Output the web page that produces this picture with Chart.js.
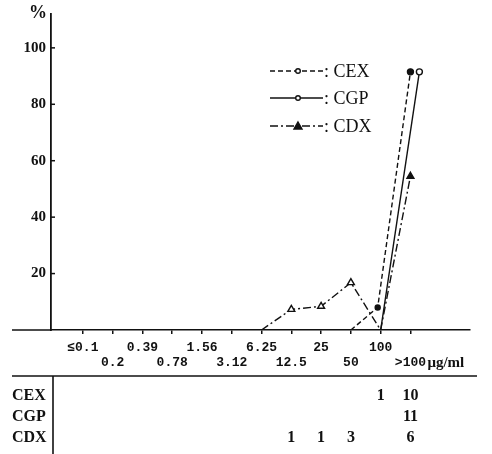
<!DOCTYPE html>
<html>
<head>
<meta charset="utf-8">
<script src="https://cdn.jsdelivr.net/npm/chart.js@4.4.1/dist/chart.umd.min.js"></script>
<style>
  html, body { margin: 0; padding: 0; background: #fff; }
  #wrap { width: 492px; height: 454px; position: relative; }
</style>
</head>
<body>
<div id="wrap"><canvas id="grafico"></canvas></div>
<script>
// Concentrações (eixo x) e valores
const concLabels = ['≤0.1', '0.2', '0.39', '0.78', '1.56', '3.12', '6.25', '12.5', '25', '50', '100', '>100'];
const yTicks = [20, 40, 60, 80, 100];

const cexX = [9, 9.9, 11];
const cexY = [0, 8, 91.5];
const cgpX = [10, 11.3];
const cgpY = [0, 91.5];
const cdxX = [6, 7, 8, 9, 10, 11];
const cdxY = [0, 7.3, 8.4, 16.8, 0, 54.5];

// Tabela de contagens (por coluna de concentração)
const rowNames = ['CEX', 'CGP', 'CDX'];
const cexCounts = [null, null, null, null, null, null, null, null, null, null, 1, 10];
const cgpCounts = [null, null, null, null, null, null, null, null, null, null, null, 11];
const cdxCounts = [null, null, null, null, null, null, null, 1, 1, 3, null, 6];

const SERIF = '"Liberation Serif", "DejaVu Serif", serif';
const MONO = '"Liberation Mono", "DejaVu Sans Mono", monospace';

function pts(xs, ys) {
    return xs.map((x, i) => ({ x: x, y: ys[i] }));
}

const datasets = [
    { label: 'CEX', data: pts(cexX, cexY), borderColor: '#111', borderWidth: 1.4, borderDash: [5, 3],
      pointStyle: 'circle', pointRadius: [0, 2.5, 3], pointBackgroundColor: '#111', pointBorderColor: '#111' },
    { label: 'CGP', data: pts(cgpX, cgpY), borderColor: '#111', borderWidth: 1.4,
      pointStyle: 'circle', pointRadius: [0, 3], pointBackgroundColor: '#fff', pointBorderColor: '#111', pointBorderWidth: 1.4 },
    { label: 'CDX', data: pts(cdxX, cdxY), borderColor: '#111', borderWidth: 1.4, borderDash: [8, 3, 2, 3],
      pointStyle: 'triangle', pointRadius: [0, 4, 4, 4, 0, 4],
      pointBackgroundColor: ['#fff', '#fff', '#fff', '#fff', '#fff', '#111'], pointBorderColor: '#111', pointBorderWidth: 1.4 }
];

// Desenho extra: eixos estendidos, legenda, tabela
const extras = {
    id: 'extras',
    afterDraw(chart) {
        const ctx = chart.ctx;
        const xs = chart.scales.x;
        const ys = chart.scales.y;
        const area = chart.chartArea;
        ctx.save();
        ctx.strokeStyle = '#111';
        ctx.fillStyle = '#111';

        // ticks do eixo y para dentro
        ctx.lineWidth = 1.5;
        yTicks.forEach(v => {
            const py = ys.getPixelForValue(v);
            ctx.beginPath();
            ctx.moveTo(area.left, py);
            ctx.lineTo(area.left + 4, py);
            ctx.stroke();
        });

        // linha base estendida para a esquerda
        ctx.lineWidth = 1.6;
        ctx.beginPath();
        ctx.moveTo(12, area.bottom);
        ctx.lineTo(area.left, area.bottom);
        ctx.stroke();

        // linhas da tabela
        ctx.beginPath();
        ctx.moveTo(12, 376);
        ctx.lineTo(477, 376);
        ctx.stroke();
        ctx.beginPath();
        ctx.moveTo(53, 376);
        ctx.lineTo(53, 454);
        ctx.stroke();

        // %
        ctx.font = 'bold 18px ' + SERIF;
        ctx.textAlign = 'center';
        ctx.textBaseline = 'middle';
        ctx.fillText('%', 38, 13);

        // unidade
        ctx.font = 'bold 15px ' + SERIF;
        ctx.textAlign = 'left';
        const x100 = xs.getPixelForValue(11);
        ctx.fillText('μg/ml', x100 + 17, 363);

        // tabela
        const counts = [cexCounts, cgpCounts, cdxCounts];
        const rowY = [396, 417, 438];
        ctx.font = 'bold 16px ' + SERIF;
        rowNames.forEach((name, r) => {
            ctx.textAlign = 'left';
            ctx.fillText(name, 12, rowY[r]);
            ctx.textAlign = 'center';
            counts[r].forEach((c, i) => {
                if (c !== null) ctx.fillText(String(c), xs.getPixelForValue(i), rowY[r]);
            });
        });

        // legenda
        const legY = [71, 98, 126];
        chart.data.datasets.forEach((ds, i) => {
            const y = legY[i];
            ctx.lineWidth = 1.4;
            ctx.setLineDash(ds.borderDash || []);
            ctx.beginPath();
            ctx.moveTo(270, y);
            ctx.lineTo(323, y);
            ctx.stroke();
            ctx.setLineDash([]);
            ctx.fillStyle = i === 2 ? '#111' : '#fff';
            ctx.beginPath();
            if (i === 2) {
                ctx.moveTo(298, y - 4);
                ctx.lineTo(302, y + 3);
                ctx.lineTo(294, y + 3);
                ctx.closePath();
            } else {
                ctx.arc(298, y, 2.3, 0, Math.PI * 2);
            }
            ctx.fill();
            ctx.stroke();
            ctx.fillStyle = '#111';
            ctx.font = '18px ' + SERIF;
            ctx.textAlign = 'left';
            ctx.fillText(': ' + ds.label, 324, y + 1);
        });
        ctx.restore();
    }
};

const grafico = new Chart(document.getElementById('grafico'), {
    type: 'line',
    data: { datasets: datasets },
    plugins: [extras],
    options: {
        responsive: true,
        maintainAspectRatio: false,
        animation: false,
        layout: { padding: { top: 10, right: 22, left: 0, bottom: 0 } },
        plugins: { legend: { display: false }, tooltip: { enabled: false } },
        scales: {
            x: {
                type: 'linear',
                min: -1.07,
                max: 13,
                afterFit: s => { s.height = 124; },
                afterBuildTicks: s => { s.ticks = concLabels.map((_, i) => ({ value: i })); },
                grid: { drawOnChartArea: false, tickLength: 4, color: '#111', lineWidth: 1.5 },
                border: { color: '#111', width: 1.6 },
                ticks: {
                    autoSkip: false,
                    maxRotation: 0,
                    padding: 6,
                    color: '#111',
                    font: { family: MONO, size: 13, weight: 'bold', lineHeight: 1.15 },
                    callback: (v) => {
                        const lab = concLabels[v];
                        return v % 2 === 0 ? [lab, ''] : ['', lab];
                    }
                }
            },
            y: {
                min: 0,
                max: 112,
                afterFit: s => { s.width = 51; },
                afterBuildTicks: s => { s.ticks = yTicks.map(v => ({ value: v })); },
                grid: { display: false, drawTicks: false },
                border: { color: '#111', width: 1.8 },
                ticks: {
                    padding: 5,
                    color: '#111',
                    font: { family: SERIF, size: 15, weight: 'bold' }
                }
            }
        }
    }
});
</script>
</body>
</html>
